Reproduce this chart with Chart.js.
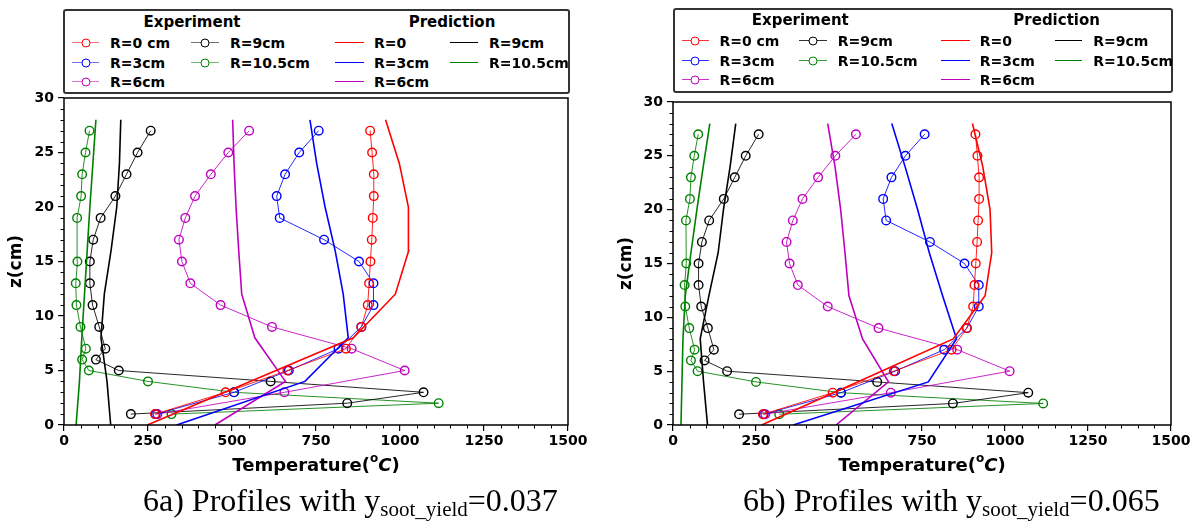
<!DOCTYPE html>
<html>
<head>
<meta charset="utf-8">
<script src="https://cdn.jsdelivr.net/npm/chart.js@4.4.1/dist/chart.umd.min.js"></script>
<style>
  body { margin: 0; background: #fff; }
  #page { position: relative; width: 1201px; height: 524px; overflow: hidden; font-family: "DejaVu Sans", sans-serif; }
  canvas { position: absolute; top: 0; }
  .legend { position: absolute; border: 2px solid #333; border-radius: 3px; box-sizing: border-box; background: #fff; }
  .lg-text { position: absolute; font-weight: bold; font-size: 14px; line-height: 16px; white-space: nowrap; transform: translateY(-50%); }
  .lg-head { position: absolute; font-weight: bold; font-size: 15px; line-height: 16px; white-space: nowrap; transform: translate(-50%, -50%); }
  .lg-line { position: absolute; height: 0; }
  .lg-dot { position: absolute; width: 7px; height: 7px; border-radius: 50%; background: #fff; transform: translate(-50%, -50%); }
  .xtitle { position: absolute; top: 453px; font-weight: bold; font-size: 18px; white-space: nowrap; transform: translateX(-50%); }
  .xtitle sup { font-size: 12px; position: relative; top: -2px; }
  .caption { position: absolute; top: 484px; font-family: "Liberation Serif", "Times New Roman", serif; font-size: 32px; line-height: 32px; white-space: nowrap; }
  .caption span { font-size: 21px; position: relative; top: 5px; }
</style>
</head>
<body>
<div id="page">
  <canvas id="chartA" width="600" height="480" style="left:0"></canvas>
  <canvas id="chartB" width="601" height="480" style="left:600px"></canvas>
  <div id="legendA" class="legend" style="left:63px; top:9px; width:507px; height:85px"></div>
  <div id="legendB" class="legend" style="left:673px; top:8px; width:500px; height:85px"></div>
  <div class="xtitle" style="left:316px">Temperature(<sup>o</sup><i>C</i>)</div>
  <div class="xtitle" style="left:922px">Temperature(<sup>o</sup><i>C</i>)</div>
  <div class="caption" style="left:143px">6a) Profiles with y<span>soot_yield</span>=0.037</div>
  <div class="caption" style="left:743px">6b) Profiles with y<span>soot_yield</span>=0.065</div>
</div>
<script>
// Data
const seriesColors = ['#ff0000', '#0000ff', '#bf00bf', '#000000', '#008000'];
const expLabels = ['R=0 cm', 'R=3cm', 'R=6cm', 'R=9cm', 'R=10.5cm'];
const predLabels = ['R=0', 'R=3cm', 'R=6cm', 'R=9cm', 'R=10.5cm'];

// experiment heights (cm)
const zOdd = [1, 3, 5, 7, 9, 11, 13, 15, 17, 19, 21, 23, 25, 27];
const zR9 = [1, 2, 3, 4, 5, 6, 7, 9, 11, 13, 15, 17, 19, 21, 23, 25, 27];
const zR105 = [1, 2, 3, 4, 5, 6, 7, 9, 11, 13, 15, 19, 21, 23, 25, 27];

// experiment temperatures (same measurements on both panels)
const expR0 = [271, 481, 665, 839, 885, 904, 908, 912, 916, 919, 922, 922, 917, 911];
const expR3 = [273, 506, 669, 817, 885, 921, 921, 878, 774, 642, 633, 658, 700, 758];
const expR6 = [278, 656, 1014, 856, 619, 466, 376, 351, 342, 361, 390, 437, 489, 551];
const expR9 = [199, 843, 1070, 615, 163, 95, 123, 105, 85, 77, 77, 87, 109, 153, 186, 219, 258];
const expR105 = [320, 1115, 506, 250, 74, 54, 65, 49, 37, 35, 40, 39, 51, 54, 64, 76];

// prediction heights (cm)
const zPred = [0, 4, 8, 12, 16, 20, 24, 28];

// predictions, soot yield 0.037
const predA_R0 = [248, 554, 861, 986, 1026, 1025, 998, 957];
const predA_R3 = [335, 717, 846, 831, 807, 777, 752, 732];
const predA_R6 = [449, 659, 568, 529, 520, 512, 506, 502];
const predA_R9 = [139, 128, 110, 120, 140, 157, 165, 169];
const predA_R105 = [36, 46, 53, 61, 69, 77, 86, 95];

// predictions, soot yield 0.065
const predB_R0 = [267, 556, 844, 940, 960, 955, 933, 902];
const predB_R3 = [362, 769, 854, 812, 772, 737, 699, 659];
const predB_R6 = [491, 649, 571, 530, 518, 505, 488, 466];
const predB_R9 = [104, 92, 82, 108, 136, 152, 172, 189];
const predB_R105 = [24, 27, 30, 37, 54, 72, 91, 111];

const xTicks = [0, 250, 500, 750, 1000, 1250, 1500];
const yTicks = [0, 5, 10, 15, 20, 25, 30];

const expT = [expR0, expR3, expR6, expR9, expR105];
const expZ = [zOdd, zOdd, zOdd, zR9, zR105];

Chart.defaults.font.family = '"DejaVu Sans", sans-serif';
Chart.defaults.color = '#000';

function toPoints(temps, zs) {
    return temps.map((t, i) => ({ x: t, y: zs[i] }));
}

function withAlpha(hex, a) {
    const n = parseInt(hex.slice(1), 16);
    return `rgba(${(n >> 16) & 255}, ${(n >> 8) & 255}, ${n & 255}, ${a})`;
}

// frame round the plot + minor ticks
const frameAndMinor = {
    id: 'frameAndMinor',
    afterDraw(chart) {
        const { ctx, chartArea: a, scales: { x, y } } = chart;
        ctx.save();
        ctx.strokeStyle = '#000';
        ctx.lineWidth = 1;
        ctx.beginPath();
        for (let v = 0; v <= 1500; v += 50) {
            if (v % 250 === 0) continue;
            const px = Math.round(x.getPixelForValue(v)) + 0.5;
            ctx.moveTo(px, a.bottom);
            ctx.lineTo(px, a.bottom + 3.5);
        }
        for (let v = 0; v <= 30; v++) {
            if (v % 5 === 0) continue;
            const py = Math.round(y.getPixelForValue(v)) + 0.5;
            ctx.moveTo(a.left - 3.5, py);
            ctx.lineTo(a.left, py);
        }
        ctx.stroke();
        ctx.lineWidth = 1.5;
        ctx.strokeRect(a.left, a.top, a.width, a.height);
        ctx.restore();
    }
};

function makeChart(id, preds, axisWidth, padRight, padTop, titlePad) {
    const datasets = [];
    preds.forEach((p, i) => {
        datasets.push({
            label: 'Prediction ' + predLabels[i],
            data: toPoints(p, zPred),
            showLine: true,
            borderColor: seriesColors[i],
            borderWidth: 1.6,
            pointRadius: 0
        });
    });
    expT.forEach((t, i) => {
        datasets.push({
            label: 'Experiment ' + expLabels[i],
            data: toPoints(t, expZ[i]),
            showLine: true,
            borderColor: withAlpha(seriesColors[i], 0.85),
            borderWidth: 1,
            pointRadius: 4.3,
            pointBorderWidth: 1.4,
            pointBorderColor: seriesColors[i],
            pointBackgroundColor: 'rgba(0,0,0,0)'
        });
    });

    return new Chart(document.getElementById(id), {
        type: 'scatter',
        data: { datasets },
        options: {
            responsive: false,
            animation: false,
            devicePixelRatio: 1,
            layout: { padding: { top: padTop, right: padRight, left: 0, bottom: 0 } },
            plugins: { legend: { display: false }, tooltip: { enabled: false } },
            scales: {
                x: {
                    type: 'linear',
                    min: 0, max: 1500,
                    afterBuildTicks: s => { s.ticks = xTicks.map(v => ({ value: v })); },
                    afterFit: s => { s.height = 55; },
                    grid: { drawOnChartArea: false, tickLength: 6, color: '#000', lineWidth: 1.2 },
                    border: { display: false },
                    ticks: { font: { size: 14, weight: 'bold' }, padding: 2, maxRotation: 0, callback: v => String(v) }
                },
                y: {
                    type: 'linear',
                    min: 0, max: 30,
                    afterBuildTicks: s => { s.ticks = yTicks.map(v => ({ value: v })); },
                    afterFit: s => { s.width = axisWidth; },
                    grid: { drawOnChartArea: false, tickLength: 6, color: '#000', lineWidth: 1.2 },
                    border: { display: false },
                    ticks: { font: { size: 14, weight: 'bold' }, padding: 4, callback: v => String(v) },
                    title: { display: true, text: 'z(cm)', font: { size: 17, weight: 'bold' }, padding: { top: titlePad, bottom: 0 } }
                }
            }
        },
        plugins: [frameAndMinor]
    });
}

function buildLegend(id, sx, rowShift, expLineAlpha) {
    const box = document.getElementById(id);
    const rows = [34, 54, 73].map(r => r + rowShift);
    const headY = 13 + rowShift;
    // column slots: [lineStart, lineEnd, textLeft]
    const cols = [[7, 34, 45], [126, 154, 165], [270, 299, 309], [385, 413, 424]];
    const slot = i => (i < 3 ? [0, i] : [1, i - 3]);
    let html = '';
    html += `<div class="lg-head" style="left:${127 * sx}px; top:${headY}px">Experiment</div>`;
    html += `<div class="lg-head" style="left:${387 * sx}px; top:${headY}px">Prediction</div>`;
    seriesColors.forEach((c, i) => {
        const [ci, ri] = slot(i);
        const y = rows[ri];
        // experiment entry
        let [l0, l1, tx] = cols[ci];
        html += `<div class="lg-line" style="left:${l0 * sx}px; width:${(l1 - l0) * sx}px; top:${y - 1}px; border-top:1.5px solid ${withAlpha(c, expLineAlpha)}"></div>`;
        html += `<div class="lg-dot" style="left:${(l0 + l1) / 2 * sx}px; top:${y}px; border:1.5px solid ${c}"></div>`;
        html += `<div class="lg-text" style="left:${tx * sx}px; top:${y}px">${expLabels[i]}</div>`;
        // prediction entry
        [l0, l1, tx] = cols[ci + 2];
        html += `<div class="lg-line" style="left:${l0 * sx}px; width:${(l1 - l0) * sx}px; top:${y - 1}px; border-top:1.5px solid ${c}"></div>`;
        html += `<div class="lg-text" style="left:${tx * sx}px; top:${y}px">${predLabels[i]}</div>`;
    });
    box.innerHTML = html;
}

makeChart('chartA', [predA_R0, predA_R3, predA_R6, predA_R9, predA_R105], 64, 32, 98, 6);
makeChart('chartB', [predB_R0, predB_R3, predB_R6, predB_R9, predB_R105], 73, 30, 102, 16);
buildLegend('legendA', 1, -2, 0.55);
buildLegend('legendB', 499 / 506, -3, 0.8);
</script>
</body>
</html>
